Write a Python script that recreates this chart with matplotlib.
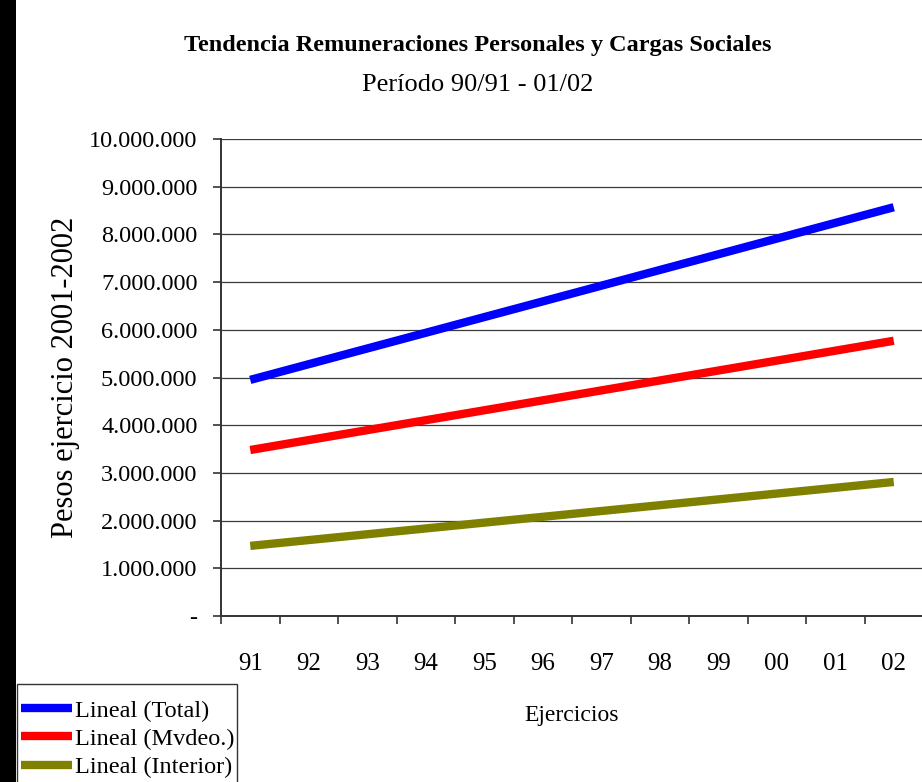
import matplotlib
matplotlib.use("Agg")
import matplotlib.pyplot as plt
from matplotlib.patches import Rectangle
from matplotlib.ticker import FixedLocator, FuncFormatter

# Data: fiscal years and linear trend values (pesos) at first and last year
years = ["91", "92", "93", "94", "95", "96", "97", "98", "99", "00", "01", "02"]
trend_names = ["Lineal (Total)", "Lineal (Mvdeo.)", "Lineal (Interior)"]
trend_start = [4950000, 3480000, 1470000]
trend_end = [8570000, 5770000, 2810000]
trend_colors = ["#0000ff", "#ff0000", "#808000"]
y_ticks = [0, 1000000, 2000000, 3000000, 4000000, 5000000,
           6000000, 7000000, 8000000, 9000000, 10000000]

plt.rcParams["font.family"] = ["Liberation Serif", "DejaVu Serif"]

W, H = 922, 782
fig = plt.figure(figsize=(W / 100, H / 100), dpi=100)
fig.patch.set_facecolor("white")

# dark strip along the left edge
fig.patches.append(Rectangle((0, 0), 16 / W, 1, transform=fig.transFigure,
                             facecolor="black", edgecolor="none", zorder=0))

ax_l, ax_r, ax_t, ax_b = 221, 923, 139, 616
ax = fig.add_axes([ax_l / W, 1 - ax_b / H, (ax_r - ax_l) / W, (ax_b - ax_t) / H])

n = len(years)
for name, y0, y1, c in zip(trend_names, trend_start, trend_end, trend_colors):
    ax.plot([0, n - 1], [y0, y1], color=c, lw=6.0, solid_capstyle="butt",
            label=name, zorder=3)

ax.set_xlim(-0.5, n - 0.5)
ax.set_ylim(0, 10000000)

# y axis
ax.yaxis.set_major_locator(FixedLocator(y_ticks))
ax.yaxis.set_major_formatter(FuncFormatter(
    lambda v, p: "-" if v == 0 else f"{int(v):,}".replace(",", ".")))
ax.tick_params(axis="y", length=6, width=1.2, color="#333333", pad=11,
               labelsize=17.5, direction="out")
ax.grid(axis="y", color="#3a3a3a", lw=0.9, zorder=1)

# x axis: labels at category centres, tick marks between categories
ax.set_xticks(range(n))
ax.set_xticklabels(years)
ax.set_xticks([i - 0.5 for i in range(n + 1)], minor=True)
ax.tick_params(axis="x", which="major", length=0, pad=27, labelsize=18)
ax.tick_params(axis="x", which="minor", length=6, width=1.2, color="#333333",
               direction="out")

for s in ("top", "right"):
    ax.spines[s].set_visible(False)
for s in ("left", "bottom"):
    ax.spines[s].set_color("#333333")
    ax.spines[s].set_linewidth(1.4)

ax.set_ylabel("Pesos ejercicio 2001-2002", fontsize=22)
ax.yaxis.set_label_coords(-141 / (ax_r - ax_l), 0.5)
fig.text(572 / W, 1 - 716 / H, "Ejercicios", fontsize=17, ha="center", va="center")

fig.text(478 / W, 1 - 45 / H,
         "Tendencia Remuneraciones Personales y Cargas Sociales",
         fontsize=17.5, fontweight="bold", ha="center", va="center")
fig.text(478 / W, 1 - 85 / H, "Período 90/91 - 01/02",
         fontsize=19, ha="center", va="center")

# legend box in the lower-left corner
fig.patches.append(Rectangle((17 / W, -10 / H), 220 / W, (782 - 684 + 10) / H,
                             transform=fig.transFigure, facecolor="white",
                             edgecolor="#333333", lw=1.0, zorder=1))
leg = fig.legend(loc="upper left", bbox_to_anchor=(17.5 / W, 1 - 696 / H),
                 bbox_transform=fig.transFigure, borderaxespad=0,
                 fontsize=17.5, frameon=False, handlelength=2.1,
                 handletextpad=0.12, labelspacing=0.26, borderpad=0.15)
leg.set_zorder(2)
for h in leg.get_lines():
    h.set_linewidth(6.0)

fig.savefig("out.png", dpi=100, facecolor="white")
